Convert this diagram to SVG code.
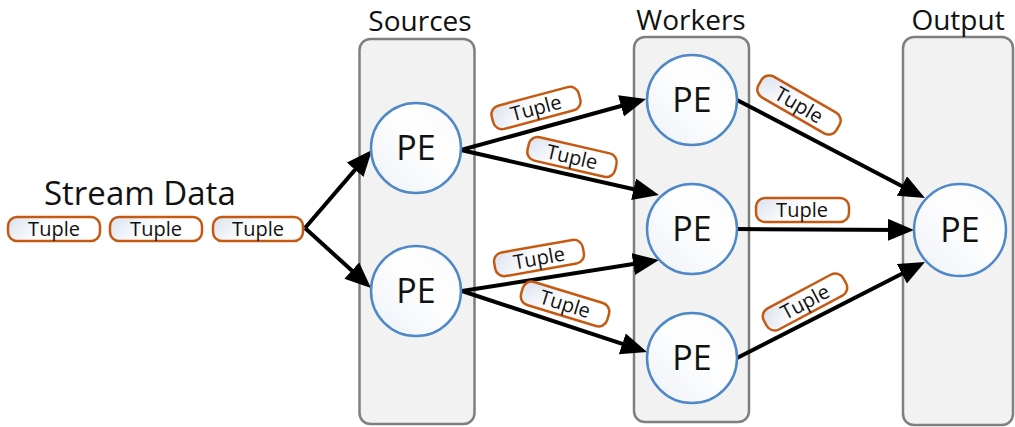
<svg xmlns="http://www.w3.org/2000/svg" width="1015" height="427" viewBox="0 0 1015 427">
<defs>
<linearGradient id="tg" x1="0" y1="0" x2="1" y2="0.3">
<stop offset="0" stop-color="#d9e1ee"/>
<stop offset="0.55" stop-color="#ffffff"/>
<stop offset="1" stop-color="#ffffff"/>
</linearGradient>
<linearGradient id="cg" x1="0" y1="1" x2="1" y2="0">
<stop offset="0" stop-color="#edf1f8"/>
<stop offset="0.6" stop-color="#ffffff"/>
<stop offset="1" stop-color="#f8f9fc"/>
</linearGradient>
<marker id="ah" markerUnits="userSpaceOnUse" markerWidth="28" markerHeight="24" refX="16" refY="11" orient="auto" viewBox="0 0 28 24">
<path d="M0,0 L26,11 L0,22 z" fill="#000"/>
</marker>
<style>
.box{fill:#f2f2f2;stroke:#7f7f7f;stroke-width:2.5}
.hdr{font-family:"Open Sans","Noto Sans",sans-serif;font-size:28px;fill:#111;text-anchor:middle}
.pe{fill:url(#cg);stroke:#4f88c6;stroke-width:2.5}
.pet{font-family:"Open Sans","Noto Sans",sans-serif;font-size:34px;fill:#111;text-anchor:middle}
.tp rect{fill:url(#tg);stroke:#c65911;stroke-width:2.5}
.tp text{font-family:"Open Sans","Noto Sans",sans-serif;font-size:20px;fill:#111;text-anchor:middle}
.cn line{stroke:#000;stroke-width:4;marker-end:url(#ah)}
.sd{font-family:"Open Sans","Noto Sans",sans-serif;font-size:33px;fill:#111}
</style>
</defs>
<rect width="1015" height="427" fill="#fff"/>

<g id="sources">
<rect class="box" x="359.5" y="39" width="115" height="385" rx="11"/>
<text class="hdr" x="420" y="31">Sources</text>
</g>
<g id="workers">
<rect class="box" x="634" y="37" width="115" height="385" rx="11"/>
<text class="hdr" x="691" y="30">Workers</text>
</g>
<g id="output">
<rect class="box" x="903" y="37" width="110" height="388" rx="11"/>
<text class="hdr" x="958" y="30">Output</text>
</g>

<g id="stream">
<text class="sd" x="44" y="205">Stream Data</text>
</g>

<g class="cn" id="connectors">
<line x1="305" y1="228" x2="365.5" y2="157.6"/>
<line x1="305" y1="228" x2="363.6" y2="281.3"/>
<line x1="461" y1="150" x2="636.4" y2="101.7"/>
<line x1="461" y1="150" x2="649.2" y2="192.8"/>
<line x1="462" y1="291" x2="649.1" y2="261.6"/>
<line x1="462" y1="291" x2="637.5" y2="348.9"/>
<line x1="737" y1="100" x2="916.1" y2="193.4"/>
<line x1="737" y1="229" x2="904" y2="229.9"/>
<line x1="737" y1="358" x2="916.1" y2="266.5"/>
</g>

<g id="pe-src1"><circle class="pe" cx="416" cy="148" r="45"/><text class="pet" x="416" y="160">PE</text></g>
<g id="pe-src2"><circle class="pe" cx="416" cy="291" r="45"/><text class="pet" x="416" y="303">PE</text></g>
<g id="pe-w1"><circle class="pe" cx="692" cy="100" r="45"/><text class="pet" x="692" y="112">PE</text></g>
<g id="pe-w2"><circle class="pe" cx="692" cy="229" r="45"/><text class="pet" x="692" y="241">PE</text></g>
<g id="pe-w3"><circle class="pe" cx="692" cy="358" r="45"/><text class="pet" x="692" y="370">PE</text></g>
<g id="pe-out"><circle class="pe" cx="960" cy="230" r="46"/><text class="pet" x="960" y="242">PE</text></g>

<g class="tp" id="tuples">
<g transform="translate(54,229)"><rect x="-46" y="-12" width="92" height="24" rx="9"/><text y="7">Tuple</text></g>
<g transform="translate(156,229)"><rect x="-46" y="-12" width="92" height="24" rx="9"/><text y="7">Tuple</text></g>
<g transform="translate(258,229)"><rect x="-45" y="-12" width="90" height="24" rx="9"/><text y="7">Tuple</text></g>
<g transform="translate(536,108) rotate(-15)"><rect x="-45" y="-12" width="90" height="24" rx="9"/><text y="7">Tuple</text></g>
<g transform="translate(572,157) rotate(13)"><rect x="-45" y="-12" width="90" height="24" rx="9"/><text y="7">Tuple</text></g>
<g transform="translate(539,258) rotate(-10)"><rect x="-45" y="-12" width="90" height="24" rx="9"/><text y="7">Tuple</text></g>
<g transform="translate(565,304) rotate(17)"><rect x="-45" y="-12" width="90" height="24" rx="9"/><text y="7">Tuple</text></g>
<g transform="translate(799,105) rotate(30)"><rect x="-45" y="-12" width="90" height="24" rx="9"/><text y="7">Tuple</text></g>
<g transform="translate(802,210)"><rect x="-46" y="-12" width="93" height="24" rx="9"/><text y="7">Tuple</text></g>
<g transform="translate(805,302) rotate(-28)"><rect x="-45" y="-12" width="90" height="24" rx="9"/><text y="7">Tuple</text></g>
</g>
</svg>
